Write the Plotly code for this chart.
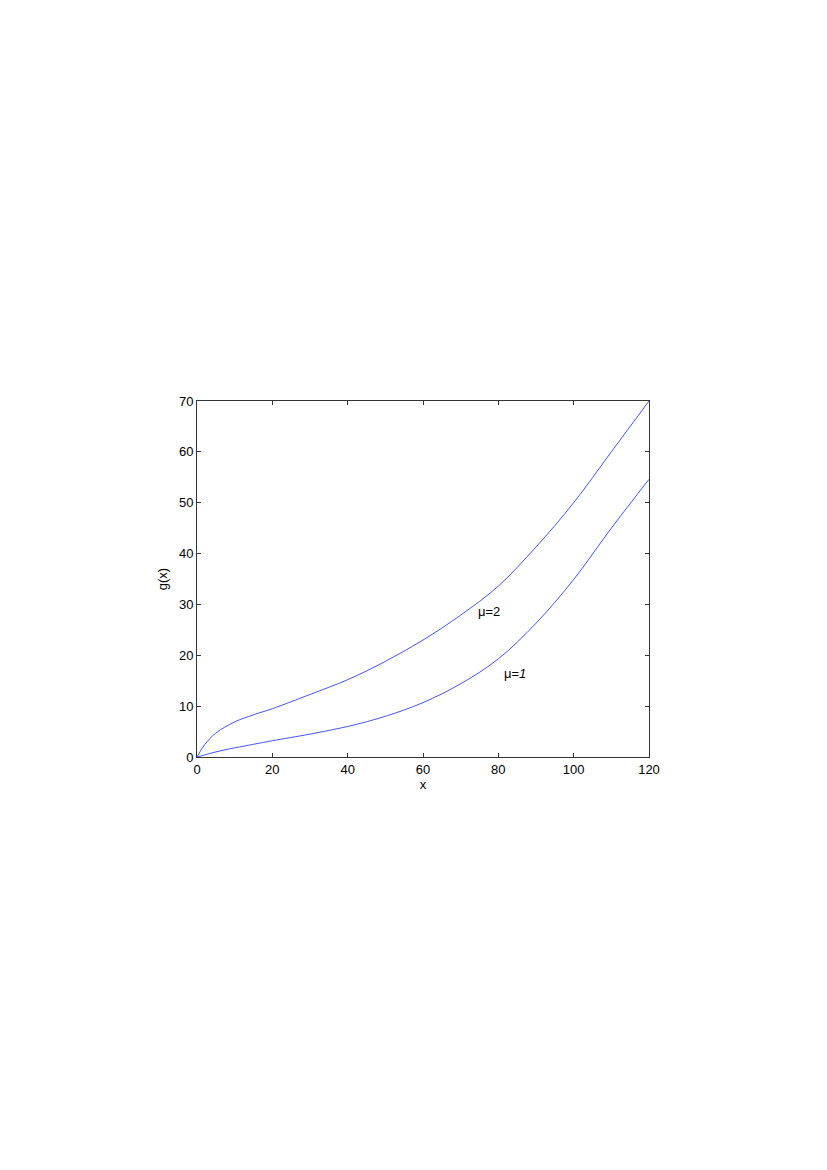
import plotly.graph_objects as go

# values
x_vals = [0, 2, 5, 10, 15, 20, 30, 40, 50, 60, 70, 80, 90, 100, 110, 120]
g_mu2 = [0, 2.4, 4.7, 6.9, 8.3, 9.5, 12.3, 15.2, 18.8, 23.0, 27.9, 33.6, 41.3, 50.0, 60.0, 70.0]
g_mu1 = [0, 0.4, 1.0, 1.8, 2.5, 3.2, 4.5, 6.0, 8.0, 10.7, 14.4, 19.3, 26.3, 34.9, 45.0, 54.6]

x_ticks = [0, 20, 40, 60, 80, 100, 120]
y_ticks = [0, 10, 20, 30, 40, 50, 60, 70]

LINE_COLOR = "#4255ff"
FONT = "Liberation Sans, Arial, sans-serif"

fig = go.Figure()
for name, vals in [("mu=2", g_mu2), ("mu=1", g_mu1)]:
    fig.add_trace(
        go.Scatter(
            x=x_vals,
            y=vals,
            mode="lines",
            name=name,
            line={"color": LINE_COLOR, "width": 1, "shape": "spline", "smoothing": 1.0},
            showlegend=False,
        )
    )

fig.add_annotation(x=77.5, y=28.6, text="μ=2", showarrow=False,
                   font={"family": FONT, "size": 13, "color": "black"})
fig.add_annotation(x=84.3, y=16.5, text="μ=<i>1</i>", showarrow=False,
                   font={"family": FONT, "size": 13, "color": "black"})

axis_common = {
    "showgrid": False,
    "zeroline": False,
    "showline": True,
    "linecolor": "#333333",
    "linewidth": 1,
    "mirror": "ticks",
    "ticks": "inside",
    "ticklen": 4,
    "tickcolor": "#333333",
    "tickfont": {"family": FONT, "size": 13, "color": "black"},
}

fig.update_xaxes(
    range=[0, 120],
    tickvals=x_ticks,
    title={"text": "x", "font": {"family": FONT, "size": 13, "color": "black"}, "standoff": 2},
    **axis_common,
)
fig.update_yaxes(
    range=[0, 70],
    tickvals=y_ticks,
    title={"text": "g(x)", "font": {"family": FONT, "size": 13, "color": "black"}, "standoff": 8},
    **axis_common,
)

# page body adds an 8px offset, so margins are shifted by that much
fig.update_layout(
    width=827,
    height=1170,
    margin={"l": 189, "r": 186, "t": 393, "b": 421},
    plot_bgcolor="white",
    paper_bgcolor="white",
)

fig.write_html("out.html")
